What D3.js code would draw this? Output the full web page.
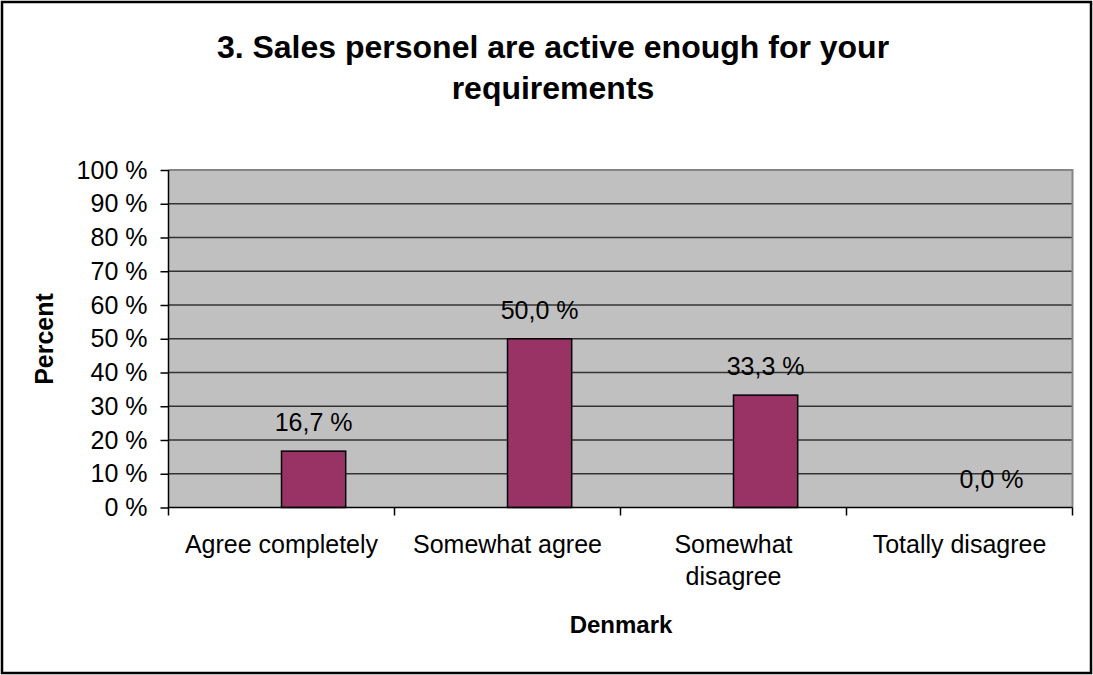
<!DOCTYPE html>
<html>
<head>
<meta charset="utf-8">
<script src="https://cdn.jsdelivr.net/npm/d3@7/dist/d3.min.js"></script>
<style>
  html, body { margin: 0; padding: 0; background: #fff; }
  svg { display: block; font-family: "Liberation Sans", Arial, sans-serif; }
</style>
</head>
<body>
<svg id="chart" width="1093" height="675"></svg>
<script>
// Survey answers, Denmark
const categories = ["Agree completely", "Somewhat agree", "Somewhat disagree", "Totally disagree"];
const categoryLines = [["Agree completely"], ["Somewhat agree"], ["Somewhat", "disagree"], ["Totally disagree"]];
const percentValues = [16.7, 50.0, 33.3, 0.0];
const yTicks = [0, 10, 20, 30, 40, 50, 60, 70, 80, 90, 100];
const titleLines = ["3. Sales personel are active enough for your", "requirements"];
const yAxisTitle = "Percent";
const xAxisTitle = "Denmark";

const svg = d3.select("#chart");
const W = 1093, H = 675;
const plot = { left: 168.5, right: 1072.5, top: 170, bottom: 507.5 };

// outer frame
svg.append("rect")
  .attr("x", 2).attr("y", 2).attr("width", W - 4).attr("height", H - 4)
  .attr("fill", "#fff").attr("stroke", "#000").attr("stroke-width", 2.5);

const x = d3.scaleBand().domain(categories).range([plot.left, plot.right]).padding(0);
// each category holds two series slots around its centre; the data sits in the right-hand slot
const barW = x.bandwidth() * 0.284;
const slot = d3.scaleBand().domain(["", "Denmark"]).range([-barW, barW]).padding(0);
const y = d3.scaleLinear().domain([0, 100]).range([plot.bottom, plot.top]);
const barX = i => x(categories[i]) + x.bandwidth() / 2 + slot("Denmark");
const fmt = v => d3.format(".1f")(v).replace(".", ",") + " %";

// plot background
svg.append("rect")
  .attr("x", plot.left).attr("y", plot.top)
  .attr("width", plot.right - plot.left).attr("height", plot.bottom - plot.top)
  .attr("fill", "#c0c0c0");

// horizontal gridlines
svg.append("g").selectAll("line").data(yTicks.filter(t => t > 0 && t < 100)).join("line")
  .attr("x1", plot.left).attr("x2", plot.right)
  .attr("y1", d => y(d)).attr("y2", d => y(d))
  .attr("stroke", "#333").attr("stroke-width", 1.5);

// plot border (top and right)
svg.append("path")
  .attr("d", `M${plot.left},${y(100)}H${plot.right}V${plot.bottom}`)
  .attr("fill", "none").attr("stroke", "#858585").attr("stroke-width", 2);

// bars
svg.append("g").selectAll("rect").data(percentValues).join("rect")
  .attr("x", (d, i) => barX(i))
  .attr("y", d => y(d))
  .attr("width", slot.bandwidth())
  .attr("height", d => y(0) - y(d))
  .attr("fill", "#993366")
  .attr("stroke", "#000").attr("stroke-width", 1.5)
  .attr("display", d => d > 0 ? null : "none");

// value labels
svg.append("g").selectAll("text").data(percentValues).join("text")
  .attr("x", (d, i) => barX(i) + slot.bandwidth() / 2)
  .attr("y", d => y(d) - 20)
  .attr("text-anchor", "middle")
  .attr("font-size", 25)
  .attr("fill", "#000")
  .text(d => fmt(d));

// y axis
const yAxis = svg.append("g").attr("transform", `translate(${plot.left},0)`)
  .call(d3.axisLeft(y).tickValues(yTicks).tickSize(8).tickPadding(13).tickFormat(d => d + " %"));
yAxis.select(".domain").attr("stroke", "#000").attr("stroke-width", 1.5)
  .attr("d", `M0,${plot.top}V${plot.bottom + 8}`);
yAxis.selectAll(".tick line").attr("stroke", "#000").attr("stroke-width", 1.5);
yAxis.selectAll(".tick text").attr("font-size", 25).attr("fill", "#000")
  .attr("font-family", "'Liberation Sans', Arial, sans-serif");

// x axis line with category boundary ticks
svg.append("line")
  .attr("x1", plot.left).attr("x2", plot.right)
  .attr("y1", plot.bottom).attr("y2", plot.bottom)
  .attr("stroke", "#000").attr("stroke-width", 1.5);
const bounds = categories.map(c => x(c)).concat([plot.right]);
svg.append("g").selectAll("line").data(bounds.slice(1)).join("line")
  .attr("x1", d => d).attr("x2", d => d)
  .attr("y1", plot.bottom).attr("y2", plot.bottom + 8)
  .attr("stroke", "#000").attr("stroke-width", 1.5);

// category labels
const catG = svg.append("g").selectAll("text").data(categories).join("text")
  .attr("text-anchor", "middle")
  .attr("font-size", 25)
  .attr("fill", "#000");
catG.each(function(c, i) {
  const t = d3.select(this);
  categoryLines[i].forEach((ln, k) => {
    t.append("tspan")
      .attr("x", x(c) + x.bandwidth() / 2)
      .attr("y", 553 + k * 32)
      .text(ln);
  });
});

// title
svg.append("g").selectAll("text").data(titleLines).join("text")
  .attr("x", 553)
  .attr("y", (d, i) => 58 + i * 41)
  .attr("text-anchor", "middle")
  .attr("font-size", 32)
  .attr("font-weight", "bold")
  .attr("fill", "#000")
  .text(d => d);

// axis titles
svg.append("text")
  .attr("transform", "translate(53,339) rotate(-90)")
  .attr("text-anchor", "middle")
  .attr("font-size", 25).attr("font-weight", "bold")
  .text(yAxisTitle);
svg.append("text")
  .attr("x", 621).attr("y", 633)
  .attr("text-anchor", "middle")
  .attr("font-size", 24).attr("font-weight", "bold")
  .text(xAxisTitle);
</script>
</body>
</html>
